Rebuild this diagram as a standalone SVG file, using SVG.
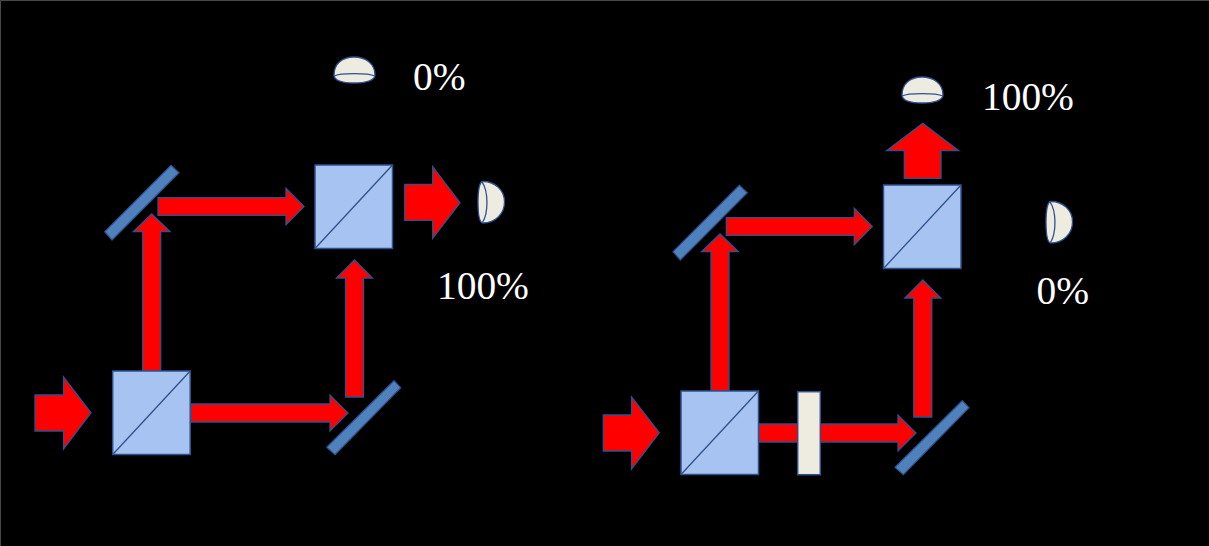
<svg xmlns="http://www.w3.org/2000/svg" width="1209" height="546" viewBox="0 0 1209 546">
<style>
.arrow{fill:#ff0000;stroke:#2f528f;stroke-width:1.3}
.cube{fill:#a6c3f2;stroke:#2f528f;stroke-width:1.5}
.diag{fill:none;stroke:#2f528f;stroke-width:1.3}
.mirror{fill:#4f81bd;stroke:#2f528f;stroke-width:1.2}
.det{fill:#eeece1;stroke:#2f528f;stroke-width:1.3}
.plate{fill:#eeece1;stroke:#2f528f;stroke-width:1.5}
text{font-family:"Liberation Serif","Times New Roman",serif;font-size:39.4px;fill:#ffffff}
</style>
<defs>
<g id="cube-shape"><rect class="cube" x="0" y="0" width="77.5" height="83.5"/><path class="diag" d="M0 83.500L77.500 0"/></g>
<g id="dome-top"><path class="det" d="M0.500 18.500C0.500 7 9 0.500 20.500 0.500C32 0.500 41.500 7 41.500 18.500C41.500 24 32 26.500 20.500 26.500C9 26.500 0.500 24 0.500 18.500Z"/><path class="det" style="fill:none" d="M0.800 19.500C6 16.300 35 16.300 41.200 19.500"/></g>
<g id="dome-right"><path class="det" d="M5 0.500C17 0.500 26.500 9 26.500 21C26.500 33 17 42 5 42C1.500 42 0 33 0 21C0 9 1.500 0.500 5 0.500Z"/><path class="det" style="fill:none" d="M4 0.800C10.500 10 10.500 32 4.500 41.500"/></g>
</defs>
<rect x="0" y="0" width="1209" height="546" fill="#000000"/>
<path d="M0.500 546V0.500H1209" fill="none" stroke="#4a4a4a" stroke-width="1"/>
<g id="connectors">
<path class="arrow" d="M35 395H63.500V377L91 412.800L63.500 449V431H35Z"/>
<path class="arrow" d="M191 404H330V395L348 413L330 431V422H191Z"/>
<path class="arrow" d="M345.500 397V278H336.500L354.500 260L372.500 278H363.500V397Z"/>
<path class="arrow" d="M142.700 371V231.700H133.300L151.700 214L170 231.700H160.700V371Z"/>
<path class="arrow" d="M158 197.700H286V188.300L304 206.500L286 224.700V215.300H158Z"/>
<path class="arrow" d="M404.700 184.300H432.700V166.700L460 202.700L432.700 238.300V220.300H404.700Z"/>
<path class="arrow" d="M603.300 415H631.500V397L659.300 432.800L631.500 469V451H603.300Z"/>
<path class="arrow" d="M759 424H898V415L916 433L898 451V442H759Z"/>
<path class="arrow" d="M913.800 417V298H904.800L922.800 280L940.800 298H931.800V417Z"/>
<path class="arrow" d="M711 391V251.700H701.600L720 234L738.300 251.700H729V391Z"/>
<path class="arrow" d="M726.300 217.700H854.300V208.300L872.300 226.500L854.300 244.700V235.300H726.300Z"/>
<path class="arrow" d="M904.300 178.300V150.700H886.700L922.700 123.300L958.700 150.700H941V178.300Z"/>
</g>
<g id="beam-splitter-1"><use href="#cube-shape" x="112.700" y="371"/></g>
<g id="beam-splitter-2"><use href="#cube-shape" x="315" y="165"/></g>
<g id="beam-splitter-3"><use href="#cube-shape" x="681" y="391"/></g>
<g id="beam-splitter-4"><use href="#cube-shape" x="883.500" y="185"/></g>
<g id="mirror-1"><path class="mirror" d="M171 165.300L179 172.700L112 240L104.700 231.700Z"/></g>
<g id="mirror-2"><path class="mirror" d="M394 380.700L400.700 387.700L335 454.700L326.700 447.300Z"/></g>
<g id="mirror-3"><path class="mirror" d="M739.300 185.300L747.300 192.700L680.300 260L673 251.700Z"/></g>
<g id="mirror-4"><path class="mirror" d="M962.300 400.700L969 407.700L903.300 474.700L895 467.300Z"/></g>
<g id="wave-plate"><rect class="plate" x="797.700" y="391.700" width="22.600" height="83"/></g>
<g id="detector-1"><use href="#dome-top" x="333.500" y="56.500"/></g>
<g id="detector-2"><use href="#dome-right" x="478" y="181"/></g>
<g id="detector-3"><use href="#dome-top" x="901.500" y="76.500"/></g>
<g id="detector-4"><use href="#dome-right" x="1046" y="201"/></g>
<text id="label-1" x="413" y="90">0%</text>
<text id="label-2" x="437" y="299">100%</text>
<text id="label-3" x="982" y="110">100%</text>
<text id="label-4" x="1036.500" y="304">0%</text>
</svg>
